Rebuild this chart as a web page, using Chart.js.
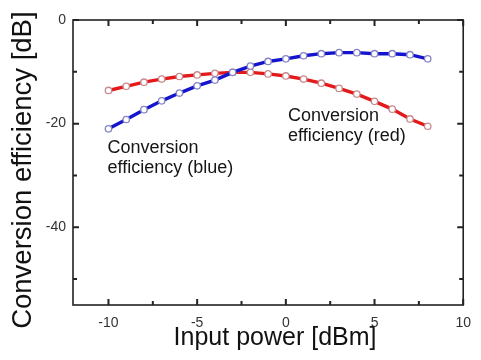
<!DOCTYPE html>
<html>
<head>
<meta charset="utf-8">
<script src="https://cdn.jsdelivr.net/npm/chart.js@4"></script>
<style>
  html, body { margin: 0; padding: 0; background: #fff; }
  #wrap { width: 481px; height: 360px; }
</style>
</head>
<body>
<div id="wrap"><canvas id="myChart" width="481" height="360"></canvas></div>
<script>
// input power [dBm]
var inputPower = [-10, -9, -8, -7, -6, -5, -4, -3, -2, -1, 0, 1, 2, 3, 4, 5, 6, 7, 8];
// conversion efficiency [dB]
var effRed  = [-13.6, -12.8, -12.0, -11.4, -10.9, -10.6, -10.3, -10.1, -10.1, -10.4, -10.8, -11.4, -12.2, -13.2, -14.3, -15.7, -17.2, -19.1, -20.5];
var effBlue = [-21.0, -19.2, -17.3, -15.6, -14.1, -12.7, -11.6, -10.1, -8.9, -8.0, -7.5, -6.9, -6.5, -6.3, -6.3, -6.5, -6.5, -6.7, -7.5];

var xTicks = [-10, -5, 0, 5, 10];
var xMinor = [-7.5, -2.5, 2.5, 7.5];
var yTicks = [0, -20, -40];
var yMinor = [-10, -30, -50];

var FONT = "'Liberation Sans', Arial, Helvetica, sans-serif";

function pts(ys) {
    return inputPower.map(function(x, i){ return {x: x, y: ys[i]}; });
}

// box round the plot with inward ticks on all four sides
var frame = {
    id: 'frame',
    afterDraw: function(chart){
        var ctx = chart.ctx, a = chart.chartArea;
        var sx = chart.scales.x, sy = chart.scales.y;
        ctx.save();
        ctx.strokeStyle = '#222';
        ctx.lineWidth = 1.6;
        ctx.strokeRect(a.left, a.top, a.right - a.left, a.bottom - a.top);
        ctx.lineWidth = 2;
        function xt(v, len){
            var p = sx.getPixelForValue(v);
            ctx.beginPath();
            ctx.moveTo(p, a.bottom); ctx.lineTo(p, a.bottom - len);
            ctx.moveTo(p, a.top); ctx.lineTo(p, a.top + len);
            ctx.stroke();
        }
        function yt(v, len){
            var p = sy.getPixelForValue(v);
            ctx.beginPath();
            ctx.moveTo(a.left, p); ctx.lineTo(a.left + len, p);
            ctx.moveTo(a.right, p); ctx.lineTo(a.right - len, p);
            ctx.stroke();
        }
        xTicks.forEach(function(v){ xt(v, 6); });
        xMinor.forEach(function(v){ xt(v, 4); });
        yTicks.forEach(function(v){ yt(v, 6); });
        yMinor.forEach(function(v){ yt(v, 4); });
        ctx.restore();
    }
};

// the two curve labels, placed in data units
var notes = {
    id: 'notes',
    afterDatasetsDraw: function(chart){
        var ctx = chart.ctx;
        var sx = chart.scales.x, sy = chart.scales.y;
        var items = [
            {x: -10.05, y: -25.7, lines: ['Conversion', 'efficiency (blue)']},
            {x: 0.12, y: -19.4, lines: ['Conversion', 'efficiency (red)']}
        ];
        ctx.save();
        ctx.fillStyle = '#151515';
        ctx.font = '18px ' + FONT;
        ctx.textAlign = 'left';
        ctx.textBaseline = 'alphabetic';
        items.forEach(function(it){
            var px = sx.getPixelForValue(it.x), py = sy.getPixelForValue(it.y);
            it.lines.forEach(function(t, i){ ctx.fillText(t, px, py + i * 20); });
        });
        ctx.restore();
    }
};

var ctx = document.getElementById('myChart').getContext('2d');
var chart = new Chart(ctx, {
    type: 'line',
    data: {
        datasets: [{
            label: 'blue',
            data: pts(effBlue),
            borderColor: '#1515cf',
            borderWidth: 3.4,
            pointRadius: 3.2,
            pointBorderWidth: 1.3,
            pointBorderColor: '#8585c4',
            pointBackgroundColor: '#ffffff',
            tension: 0
        }, {
            label: 'red',
            data: pts(effRed),
            borderColor: '#e3191b',
            borderWidth: 3.4,
            pointRadius: 3.2,
            pointBorderWidth: 1.3,
            pointBorderColor: '#c98a8e',
            pointBackgroundColor: '#ffffff',
            tension: 0
        }]
    },
    options: {
        responsive: false,
        animation: false,
        layout: { padding: { top: 20, right: 9, left: 0, bottom: 0 } },
        plugins: { legend: { display: false }, tooltip: { enabled: false } },
        scales: {
            x: {
                type: 'linear',
                min: -12, max: 10,
                afterBuildTicks: function(s){ s.ticks = xTicks.map(function(v){ return {value: v}; }); },
                afterFit: function(s){ s.height = 55; },
                grid: { display: false, drawTicks: false },
                border: { display: false },
                ticks: { padding: 10, color: '#333', font: { family: FONT, size: 14 } },
                title: {
                    display: true, text: '  Input power [dBm]', color: '#111',
                    font: { family: FONT, size: 25 }, padding: { top: 0, bottom: 7 }
                }
            },
            y: {
                type: 'linear',
                min: -55, max: 0,
                afterBuildTicks: function(s){ s.ticks = yTicks.map(function(v){ return {value: v}; }); },
                afterFit: function(s){ s.width = 73; },
                grid: { display: false, drawTicks: false },
                border: { display: false },
                ticks: { padding: 7, color: '#333', font: { family: FONT, size: 14 } },
                title: {
                    display: true, text: 'Conversion efficiency [dB]  ', color: '#111',
                    font: { family: FONT, size: 27.5 }, padding: { top: 7, bottom: 0 }
                }
            }
        }
    },
    plugins: [frame, notes]
});
</script>
</body>
</html>
